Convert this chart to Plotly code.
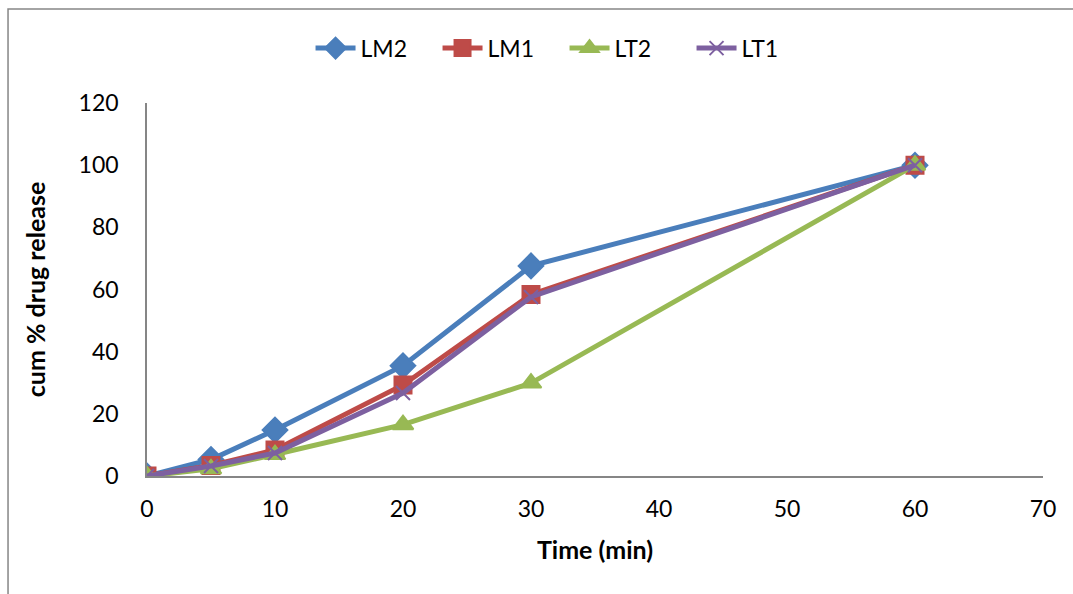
import plotly.graph_objects as go

time_min = [0, 5, 10, 20, 30, 60]
lm2 = [0, 5.3, 14.8, 35.5, 67.6, 100]
lm1 = [0, 3.4, 8.4, 29.3, 58.4, 100]
lt2 = [0, 2.3, 6.9, 16.5, 29.9, 100]
lt1 = [0, 3.2, 7.4, 26.7, 57.6, 100]

series = [
    ("LM2", lm2, "#4A7EBB", "diamond", 19),
    ("LM1", lm1, "#BE4B48", "square", 17),
    ("LT2", lt2, "#98B954", "triangle-up", 18),
    ("LT1", lt1, "#7D60A0", "x-thin", 14),
]

FONT = "Lato, 'Open Sans', sans-serif"

fig = go.Figure()
for name, vals, color, sym, size in series:
    fig.add_trace(go.Scatter(
        x=time_min, y=vals, name=name, mode="lines+markers",
        line=dict(color=color, width=5),
        marker=dict(symbol=sym, size=size, color=color,
                    line=dict(color=color, width=2)),
    ))

fig.update_layout(
    width=1073, height=594,
    margin=dict(l=147, r=30, t=103, b=118),
    paper_bgcolor="white", plot_bgcolor="white",
    font=dict(family=FONT, size=23, color="black"),
    showlegend=True,
    legend=dict(orientation="h", x=0.466, xanchor="center", y=1.147, yanchor="middle",
                font=dict(size=23), tracegroupgap=0, entrywidth=72, itemwidth=40),
    xaxis=dict(range=[0, 70], tickvals=[0, 10, 20, 30, 40, 50, 60, 70],
               showgrid=False, zeroline=False, showline=True, linecolor="#868686",
               linewidth=1.5, ticks="", ticklabelstandoff=12,
               title=dict(text="<b>Time (min)</b>", font=dict(size=25), standoff=20)),
    yaxis=dict(range=[0, 120], tickvals=[0, 20, 40, 60, 80, 100, 120],
               showgrid=False, zeroline=False, showline=True, linecolor="#868686",
               linewidth=1.5, ticks="", ticklabelstandoff=22,
               title=dict(text="<b>cum % drug release</b>", font=dict(size=25), standoff=26)),
    shapes=[dict(type="rect", xref="paper", yref="paper",
                 x0=-0.1551, y0=-0.6, x1=1.2, y1=1.252,
                 line=dict(color="#868686", width=1.5), layer="below")],
)

fig.write_html("out.html")
